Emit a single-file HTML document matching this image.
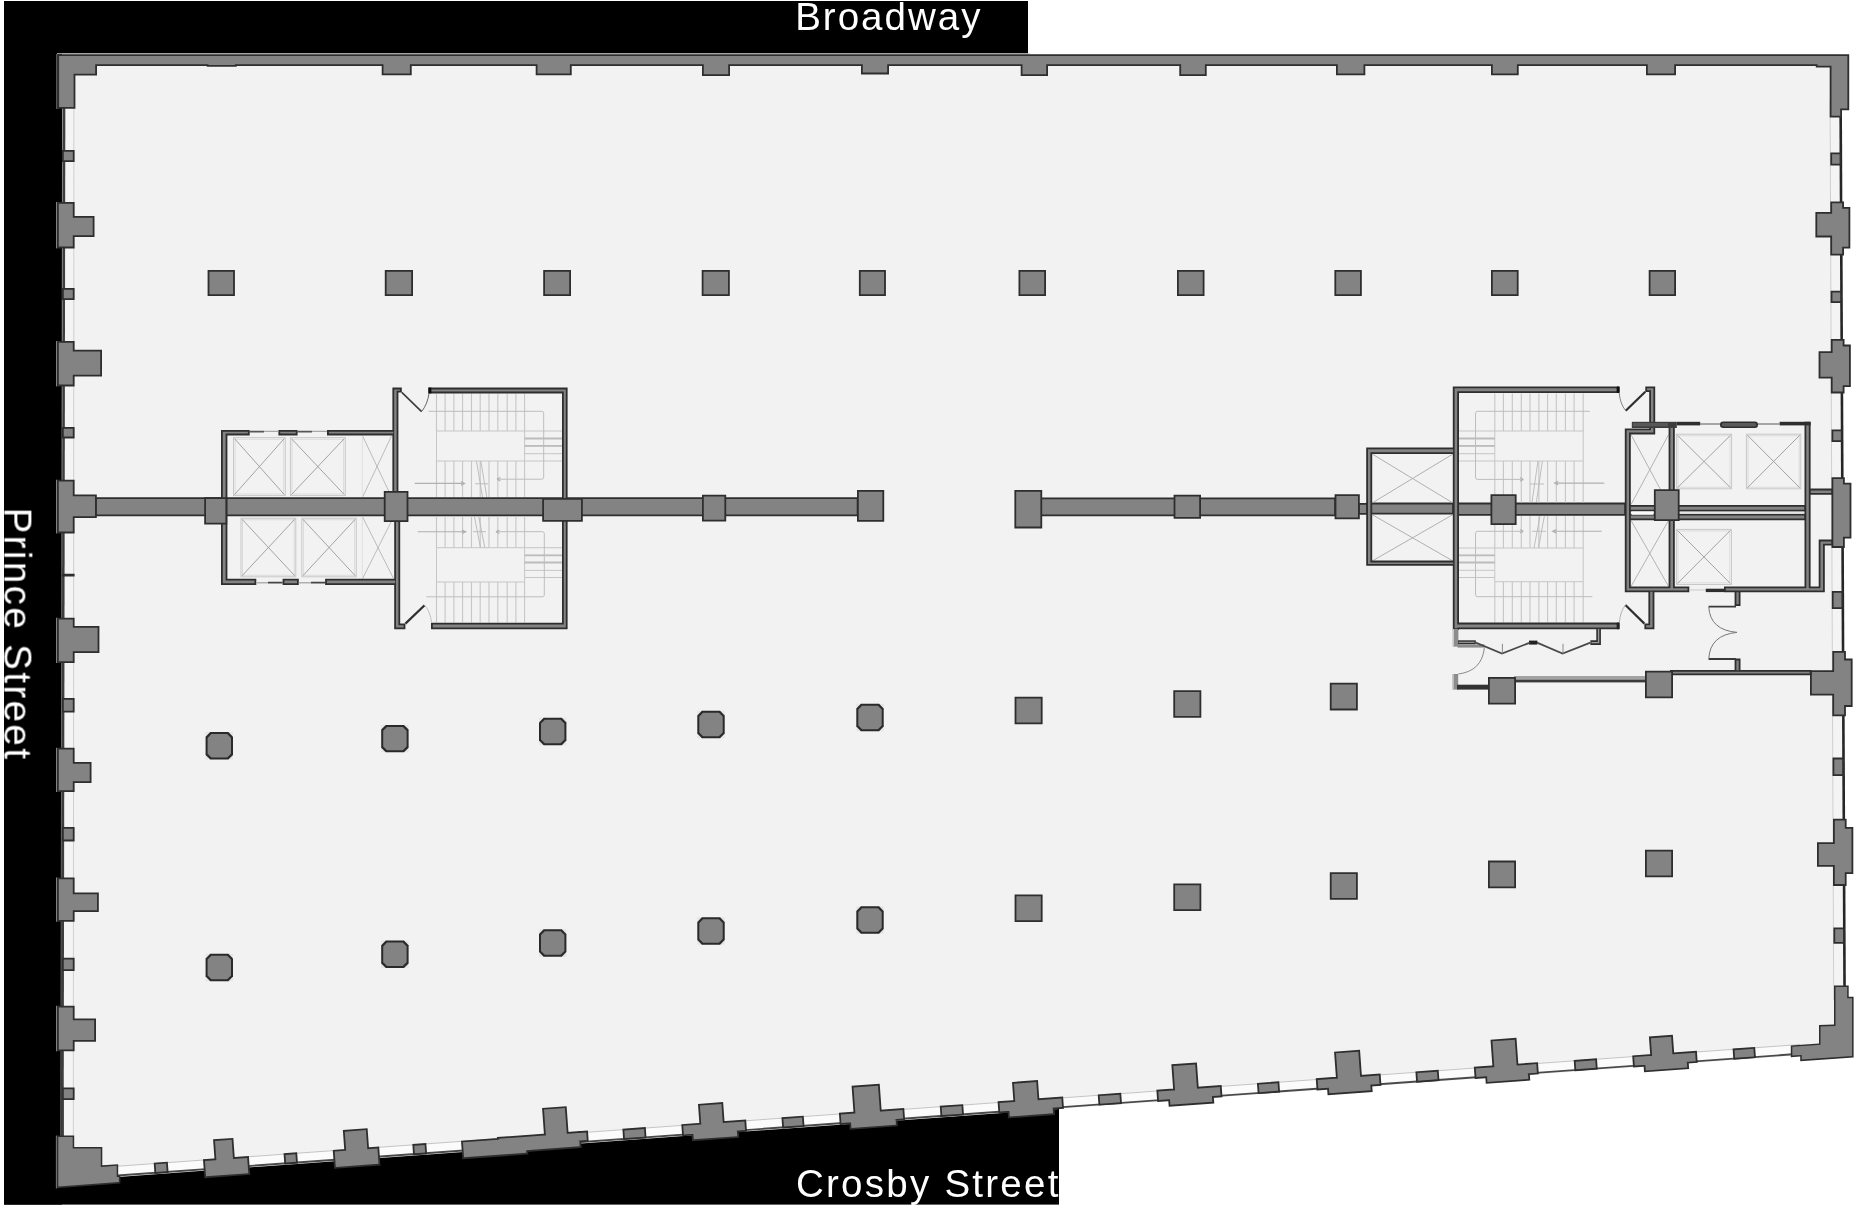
<!DOCTYPE html>
<html><head><meta charset="utf-8"><title>Floor plan</title>
<style>
html,body{margin:0;padding:0;background:#fff;}
body{width:1861px;height:1211px;overflow:hidden;font-family:"Liberation Sans",sans-serif;}
svg{display:block;}
text{font-family:"Liberation Sans",sans-serif;}
</style></head><body>
<svg width="1861" height="1211" viewBox="0 0 1861 1211">
<rect x="0" y="0" width="1861" height="1211" fill="#fff"/>
<rect x="4" y="1" width="1024" height="52.8" fill="#000"/>
<rect x="4" y="1" width="58" height="1203.6" fill="#000"/>
<rect x="4" y="1090" width="1055" height="114.6" fill="#000"/>
<defs><filter id="b" filterUnits="userSpaceOnUse" x="0" y="0" width="1861" height="1211"><feGaussianBlur stdDeviation="0.6"/></filter></defs>
<g filter="url(#b)">
<polygon points="63.5,54 1840.3,54 1844.8,1052.1 63.5,1180.9" fill="#f2f2f2" />
<polygon points="64,100 74,100 74,1150 64,1150" fill="#f4f4f4" />
<polygon points="1830.1,100 1840,100 1844,1000 1833.7,1000" fill="#f4f4f4" />
<polygon points="100,1167.2 1800,1044.2 1800,1054.2 100,1177.2" fill="#fbfbfb" />
<line x1="73.9" y1="100" x2="73.3" y2="1150" stroke="#cfcfcf" stroke-width="1" />
<line x1="1830.1" y1="100" x2="1833.7" y2="1000" stroke="#cfcfcf" stroke-width="1" />
<line x1="100" y1="1167.5" x2="1800" y2="1044.5" stroke="#c4c4c4" stroke-width="1.0" />
<line x1="62.6" y1="100" x2="60.9" y2="1150" stroke="#8a8a8a" stroke-width="0.9" />
<line x1="64.1" y1="100" x2="62.4" y2="1150" stroke="#3c3c3c" stroke-width="2.5" />
<line x1="1840.6" y1="100" x2="1844.6" y2="1000" stroke="#262626" stroke-width="2.6" />
<line x1="100" y1="1176.8" x2="1800" y2="1053.8" stroke="#4a4a4a" stroke-width="1.9" />
<line x1="57" y1="53.7" x2="1030" y2="53.7" stroke="#c8c8c8" stroke-width="1.1" />
<path fill="#2e2e2e" d="M95 497.2H858.5V516.2H95ZM1040 497.5H1336V516.2H1040ZM1358 503H1368V514.8H1358ZM1366 502.6H1454V514.6H1366ZM1453 502.6H1626V515.8H1453Z"/>
<path fill="#838383" d="M96.8 499H856.7V514.4H96.8ZM1041.8 499.3H1334.2V514.4H1041.8ZM1359.8 504.8H1366.2V513H1359.8ZM1367.8 504.4H1452.2V512.8H1367.8ZM1454.8 504.4H1624.2V514H1454.8Z"/>
<line x1="56.9" y1="54" x2="56.9" y2="109" stroke="#a0a0a0" stroke-width="0.9" />
<line x1="56.4" y1="1135.6" x2="56.4" y2="1188.4" stroke="#a0a0a0" stroke-width="0.9" />
<line x1="56.6" y1="202" x2="56.6" y2="248.4" stroke="#a0a0a0" stroke-width="0.9" />
<line x1="56.6" y1="341" x2="56.6" y2="386.4" stroke="#a0a0a0" stroke-width="0.9" />
<line x1="56.6" y1="479.7" x2="56.6" y2="533.4" stroke="#a0a0a0" stroke-width="0.9" />
<line x1="56.6" y1="617.8" x2="56.6" y2="663" stroke="#a0a0a0" stroke-width="0.9" />
<line x1="56.6" y1="747.8" x2="56.6" y2="792" stroke="#a0a0a0" stroke-width="0.9" />
<line x1="56.6" y1="877.4" x2="56.6" y2="921.7" stroke="#a0a0a0" stroke-width="0.9" />
<line x1="56.6" y1="1005.8" x2="56.6" y2="1051.3" stroke="#a0a0a0" stroke-width="0.9" />
<path fill="#2e2e2e" d="M57.3 54.3H1849.2V66H57.3ZM57.3 54.3H97V75.6H57.3ZM57.3 54.3H75.4V108.8H57.3ZM206.7 60H236.7V66.8H206.7ZM381.7 60H411.7V75.3H381.7ZM535.7 60H571.7V75.3H535.7ZM702 60H730V76H702ZM861 60H889V74.4H861ZM1020.7 60H1048V76H1020.7ZM1179.3 60H1206.7V76H1179.3ZM1336 60H1365.3V75.3H1336ZM1491 60H1518.7V75.3H1491ZM1646 60H1676V75.3H1646ZM1815.8 54.6H1849.2V67.6H1815.8ZM1829.7 54.6H1849.2V110.2H1829.7ZM1829.7 54.6H1842V117.6H1829.7ZM57 202H74.6V248.4H57ZM57 216H94.5V237H57ZM57 341H74.6V386.4H57ZM57 349.7H102V376.5H57ZM57 479.7H74.6V533.4H57ZM57 494.5H96.8V518H57ZM57 617.8H74.6V663H57ZM57 626H99.4V653H57ZM57 747.8H74.6V792H57ZM57 762H91.5V783H57ZM57 877.4H74.6V921.7H57ZM57 892.5H98.8V912H57ZM57 1005.8H74.6V1051.3H57ZM57 1018.5H96V1041.7H57ZM62 150H74.6V162H62ZM62 288H74.6V300H62ZM62 427H74.6V438.4H62ZM62 698H74.6V712.6H62ZM62 827H74.6V841.4H62ZM62 957.7H74.6V971H62ZM62 1087.5H74.6V1100H62ZM62 573.8H74.6V576.6H62ZM1830.3 201.5H1844V255.5H1830.3ZM1830.3 207H1850.3V248.6H1830.3ZM1815.4 212H1844V237.4H1815.4ZM1830.8 339H1844.5V393.4H1830.8ZM1830.8 344.6H1850.8V387H1830.8ZM1818.6 351.3H1844.5V378.6H1818.6ZM1831.5 477.3H1844.8V547.9H1831.5ZM1831.5 482.8H1851.4V538.5H1831.5ZM1832.3 651H1845.9V716.3H1832.3ZM1832.3 658.6H1852.6V706.9H1832.3ZM1810 670.2H1845.9V695.5H1810ZM1833 818.8H1846.6V885.9H1833ZM1833 827H1853.3V874H1833ZM1817 842.3H1846.6V866.8H1817ZM1830.3 152.5H1841.4V165.6H1830.3ZM1830.6 290.7H1842V303H1830.6ZM1831.5 429.5H1842.6V442H1831.5ZM1831.8 591H1843.2V609H1831.8ZM1832.5 757.6H1844V776H1832.5ZM1833.4 927.4H1844.8V943.7H1833.4Z"/>
<path fill="#838383" d="M59.1 56.1H1847.4V64.2H59.1ZM59.1 56.1H95.2V73.8H59.1ZM59.1 56.1H73.6V107H59.1ZM208.5 61.8H234.9V65H208.5ZM383.5 61.8H409.9V73.5H383.5ZM537.5 61.8H569.9V73.5H537.5ZM703.8 61.8H728.2V74.2H703.8ZM862.8 61.8H887.2V72.6H862.8ZM1022.5 61.8H1046.2V74.2H1022.5ZM1181.1 61.8H1204.9V74.2H1181.1ZM1337.8 61.8H1363.5V73.5H1337.8ZM1492.8 61.8H1516.9V73.5H1492.8ZM1647.8 61.8H1674.2V73.5H1647.8ZM1817.6 56.4H1847.4V65.8H1817.6ZM1831.5 56.4H1847.4V108.4H1831.5ZM1831.5 56.4H1840.2V115.8H1831.5ZM58.8 203.8H72.8V246.6H58.8ZM58.8 217.8H92.7V235.2H58.8ZM58.8 342.8H72.8V384.6H58.8ZM58.8 351.5H100.2V374.7H58.8ZM58.8 481.5H72.8V531.6H58.8ZM58.8 496.3H95V516.2H58.8ZM58.8 619.6H72.8V661.2H58.8ZM58.8 627.8H97.6V651.2H58.8ZM58.8 749.6H72.8V790.2H58.8ZM58.8 763.8H89.7V781.2H58.8ZM58.8 879.2H72.8V919.9H58.8ZM58.8 894.3H97V910.2H58.8ZM58.8 1007.6H72.8V1049.5H58.8ZM58.8 1020.3H94.2V1039.9H58.8ZM63.8 151.8H72.8V160.2H63.8ZM63.8 289.8H72.8V298.2H63.8ZM63.8 428.8H72.8V436.6H63.8ZM63.8 699.8H72.8V710.8H63.8ZM63.8 828.8H72.8V839.6H63.8ZM63.8 959.5H72.8V969.2H63.8ZM63.8 1089.3H72.8V1098.2H63.8ZM1832.1 203.3H1842.2V253.7H1832.1ZM1832.1 208.8H1848.5V246.8H1832.1ZM1817.2 213.8H1842.2V235.6H1817.2ZM1832.6 340.8H1842.7V391.6H1832.6ZM1832.6 346.4H1849V385.2H1832.6ZM1820.4 353.1H1842.7V376.8H1820.4ZM1833.3 479.1H1843V546.1H1833.3ZM1833.3 484.6H1849.6V536.7H1833.3ZM1834.1 652.8H1844.1V714.5H1834.1ZM1834.1 660.4H1850.8V705.1H1834.1ZM1811.8 672H1844.1V693.7H1811.8ZM1834.8 820.6H1844.8V884.1H1834.8ZM1834.8 828.8H1851.5V872.2H1834.8ZM1818.8 844.1H1844.8V865H1818.8ZM1832.1 154.3H1839.6V163.8H1832.1ZM1832.4 292.5H1840.2V301.2H1832.4ZM1833.3 431.3H1840.8V440.2H1833.3ZM1833.6 592.8H1841.4V607.2H1833.6ZM1834.3 759.4H1842.2V774.2H1834.3ZM1835.2 929.2H1843V941.9H1835.2Z"/>
<polygon points="56.8,1135.6 74.2,1135.6 74.2,1147 102.3,1147 102.3,1165.3 118.2,1164.2 118.2,1175.5 120.4,1175.3 120.4,1183.4 56.8,1188.2" fill="#2e2e2e" />
<polygon points="58.3,1137.1 72.7,1137.1 72.7,1148.5 100.8,1148.5 100.8,1166.9 116.7,1165.8 116.7,1177 118.9,1176.9 118.9,1182 58.3,1186.6" fill="#838383" />
<polygon points="1834,985.5 1848.7,985.5 1848.7,996.8 1853.6,996.8 1853.6,1057.4 1800.2,1061.2 1800.2,1056.6 1790.8,1057.2 1790.8,1045.4 1819,1043.4 1819,1025 1834,1024.4" fill="#2e2e2e" />
<polygon points="1835.5,987 1847.2,987 1847.2,998.3 1852.1,998.3 1852.1,1056 1801.7,1059.6 1801.7,1055 1792.3,1055.6 1792.3,1046.8 1820.5,1044.8 1820.5,1026.5 1835.5,1025.9" fill="#838383" />
<g transform="translate(57,1170.3) rotate(-4.1364)">
<path fill="#2e2e2e" d="M97 -0.6H111.1V10.6H97ZM227.2 -0.6H240.8V10.6H227.2ZM356.3 -0.6H370.3V10.6H356.3ZM566.9 -0.6H590.3V10.6H566.9ZM726.4 -0.6H748.7V10.6H726.4ZM885.1 -0.6H908.6V10.6H885.1ZM1043.5 -0.6H1067V10.6H1043.5ZM1203.1 -0.6H1225.5V10.6H1203.1ZM1362 -0.6H1385.3V10.6H1362ZM1520.7 -0.6H1544V10.6H1520.7ZM1680 -0.6H1702.6V10.6H1680ZM157.9 -19.6H178.2V5H157.9ZM146.4 -0.4H192.4V18.5H146.4ZM288 -19.6H312.8V5H288ZM276.5 -0.4H323V18.5H276.5ZM405.1 -0.4H471.2V18.2H405.1ZM441.1 -1.4H524.9V15.6H441.1ZM504.3 -1.4H532.4V9.8H504.3ZM488.3 -27.2H512.9V5H488.3ZM644.1 -20H669.3V5H644.1ZM626 -1H691V11.2H626ZM635.5 4H682.8V16.8H635.5ZM798.6 -27H826.8V5H798.6ZM784 -1H849.5V11.2H784ZM793.6 4H841.9V16.8H793.6ZM958.9 -19.2H984.9V5H958.9ZM943.1 -1H1008.8V11.2H943.1ZM952.4 4H999.4V16.8H952.4ZM1119.1 -25.3H1144.7V5H1119.1ZM1102.3 -1H1167.7V11.2H1102.3ZM1113.4 4H1159.1V16.8H1113.4ZM1282.3 -26.2H1308.3V5H1282.3ZM1262.1 -1H1327.1V11.2H1262.1ZM1272.7 4H1317.9V16.8H1272.7ZM1439.2 -26.9H1465.2V5H1439.2ZM1420.6 -1H1484.9V11.2H1420.6ZM1431.3 4H1475.9V16.8H1431.3ZM1597.4 -18.6H1621.4V5H1597.4ZM1579.4 -1H1644.2V11.2H1579.4ZM1590 4H1635.2V16.8H1590Z"/>
<path fill="#838383" d="M98.8 1.2H109.3V8.8H98.8ZM229 1.2H239V8.8H229ZM358.1 1.2H368.5V8.8H358.1ZM568.7 1.2H588.5V8.8H568.7ZM728.2 1.2H746.9V8.8H728.2ZM886.9 1.2H906.8V8.8H886.9ZM1045.3 1.2H1065.2V8.8H1045.3ZM1204.9 1.2H1223.7V8.8H1204.9ZM1363.8 1.2H1383.5V8.8H1363.8ZM1522.5 1.2H1542.2V8.8H1522.5ZM1681.8 1.2H1700.8V8.8H1681.8ZM159.7 -17.8H176.4V3.2H159.7ZM148.2 1.4H190.6V16.7H148.2ZM289.8 -17.8H311V3.2H289.8ZM278.3 1.4H321.2V16.7H278.3ZM406.9 1.4H469.4V16.4H406.9ZM442.9 0.4H523.1V13.8H442.9ZM506.1 0.4H530.6V8H506.1ZM490.1 -25.4H511.1V3.2H490.1ZM645.9 -18.2H667.5V3.2H645.9ZM627.8 0.8H689.2V9.4H627.8ZM637.3 5.8H681V15H637.3ZM800.4 -25.2H825V3.2H800.4ZM785.8 0.8H847.7V9.4H785.8ZM795.4 5.8H840.1V15H795.4ZM960.7 -17.4H983.1V3.2H960.7ZM944.9 0.8H1007V9.4H944.9ZM954.2 5.8H997.6V15H954.2ZM1120.9 -23.5H1142.9V3.2H1120.9ZM1104.1 0.8H1165.9V9.4H1104.1ZM1115.2 5.8H1157.3V15H1115.2ZM1284.1 -24.4H1306.5V3.2H1284.1ZM1263.9 0.8H1325.3V9.4H1263.9ZM1274.5 5.8H1316.1V15H1274.5ZM1441 -25.1H1463.4V3.2H1441ZM1422.4 0.8H1483.1V9.4H1422.4ZM1433.1 5.8H1474.1V15H1433.1ZM1599.2 -16.8H1619.6V3.2H1599.2ZM1581.2 0.8H1642.4V9.4H1581.2ZM1591.8 5.8H1633.4V15H1591.8Z"/>
</g>
<rect x="233.5" y="437.6" width="51.8" height="58" fill="none" stroke="#c8c8c8" stroke-width="1"/>
<rect x="235.1" y="439.2" width="48.6" height="54.8" fill="none" stroke="#d6d6d6" stroke-width="0.8"/>
<path d="M234.5 438.6L284.3 494.6M284.3 438.6L234.5 494.6" fill="none" stroke="#9a9a9a" stroke-width="0.9" />
<rect x="290.4" y="437.6" width="54.9" height="58" fill="none" stroke="#c8c8c8" stroke-width="1"/>
<rect x="292" y="439.2" width="51.7" height="54.8" fill="none" stroke="#d6d6d6" stroke-width="0.8"/>
<path d="M291.4 438.6L344.3 494.6M344.3 438.6L291.4 494.6" fill="none" stroke="#9a9a9a" stroke-width="0.9" />
<path d="M362.6 436L391.5 497M391.5 436L362.6 497" fill="none" stroke="#b4b4b4" stroke-width="0.9" />
<path d="M362.3 436V497" fill="none" stroke="#dcdcdc" stroke-width="0.8" />
<rect x="241" y="518.2" width="54.8" height="58.6" fill="none" stroke="#c8c8c8" stroke-width="1"/>
<rect x="242.6" y="519.8" width="51.6" height="55.4" fill="none" stroke="#d6d6d6" stroke-width="0.8"/>
<path d="M242 519.2L294.8 575.8M294.8 519.2L242 575.8" fill="none" stroke="#9a9a9a" stroke-width="0.9" />
<rect x="301.8" y="518.2" width="54.5" height="58.6" fill="none" stroke="#c8c8c8" stroke-width="1"/>
<rect x="303.4" y="519.8" width="51.3" height="55.4" fill="none" stroke="#d6d6d6" stroke-width="0.8"/>
<path d="M302.8 519.2L355.3 575.8M355.3 519.2L302.8 575.8" fill="none" stroke="#9a9a9a" stroke-width="0.9" />
<path d="M362.6 517L393.5 578.5M393.5 517L362.6 578.5" fill="none" stroke="#b4b4b4" stroke-width="0.9" />
<path d="M362.3 517V578" fill="none" stroke="#dcdcdc" stroke-width="0.8" />
<path d="M436.5 393.5V431M436.5 461V497M445.1 393.5V431M445.1 461V497M453.9 393.5V431M453.9 461V497M462.6 393.5V431M462.6 461V497M471.5 393.5V431M471.5 461V497M480.2 393.5V431M480.2 461V497M489 393.5V431M489 461V497M497.8 393.5V431M497.8 461V497M507.2 393.5V431M507.2 461V497M515.9 393.5V431M515.9 461V497M524.6 393.5V431M524.6 461V497" fill="none" stroke="#c6c6c6" stroke-width="1.1" />
<path d="M436.5 431H524.6M436.5 461H524.6M436.5 431V461M524.6 431V461" fill="none" stroke="#c6c6c6" stroke-width="1" />
<path d="M524.6 431H562M524.6 438.5H562M524.6 445.9H562M524.6 453.7H562M524.6 461H562" fill="none" stroke="#c6c6c6" stroke-width="1" />
<path d="M524.6 438.5H562M524.6 445.9H562" fill="none" stroke="#bcbcbc" stroke-width="1.8" />
<path d="M428.4 411.3H541.7Q543.7 411.3 543.7 413.3V477.2Q543.7 479.2 541.7 479.2H497" fill="none" stroke="#bdbdbd" stroke-width="1" />
<path d="M436.5 516.5V547.7M436.5 582V622.6M445.1 516.5V547.7M445.1 582V622.6M453.9 516.5V547.7M453.9 582V622.6M462.6 516.5V547.7M462.6 582V622.6M471.5 516.5V547.7M471.5 582V622.6M480.2 516.5V547.7M480.2 582V622.6M489 516.5V547.7M489 582V622.6M497.8 516.5V547.7M497.8 582V622.6M507.2 516.5V547.7M507.2 582V622.6M515.9 516.5V547.7M515.9 582V622.6M524.6 516.5V547.7M524.6 582V622.6" fill="none" stroke="#c6c6c6" stroke-width="1.1" />
<path d="M436.5 547.7H524.6M436.5 582H524.6M436.5 547.7V582M524.6 547.7V582" fill="none" stroke="#c6c6c6" stroke-width="1" />
<path d="M524.6 547.7H562M524.6 555.3H562M524.6 562.5H562M524.6 570.4H562M524.6 577.5H562" fill="none" stroke="#c6c6c6" stroke-width="1" />
<path d="M524.6 555.3H562M524.6 562.5H562" fill="none" stroke="#bcbcbc" stroke-width="1.8" />
<path d="M426.3 596.8H542.3Q544.3 596.8 544.3 594.8V533.7Q544.3 531.7 542.3 531.7H496" fill="none" stroke="#bdbdbd" stroke-width="1" />
<path d="M414.7 483.4H464M461 481.6L464.6 483.4L461 485.2" fill="none" stroke="#b0b0b0" stroke-width="1.1" />
<path d="M497 479.2l3.4 -1.8M497 479.2l3.4 1.8" fill="none" stroke="#b0b0b0" stroke-width="1.1" />
<path d="M417.6 531.7H465M462 529.9L465.8 531.7L462 533.5" fill="none" stroke="#b0b0b0" stroke-width="1.1" />
<path d="M496 531.7l3.4 -1.8M496 531.7l3.4 1.8" fill="none" stroke="#b0b0b0" stroke-width="1.1" />
<path d="M476.5 461L482.5 497M480.8 461L486.8 497M475 483.8H488" fill="none" stroke="#b8b8b8" stroke-width="0.9" />
<path d="M474.5 517L480.5 547.7M478.8 517L484.8 547.7M473 531.7H486" fill="none" stroke="#b8b8b8" stroke-width="0.9" />
<path fill="#2e2e2e" d="M221 430H227.4V585H221ZM221 430H249.7V435.4H221ZM278.4 430H297.6V435.4H278.4ZM327 430H395V435.4H327ZM221 578.8H256.3V585H221ZM282.6 578.8H298.8V585H282.6ZM325.1 578.8H397V585H325.1ZM392.4 387.6H398.4V498H392.4ZM392.4 387.6H401.8V392.6H392.4ZM394.2 515H400.2V629.3H394.2ZM394.2 623.4H405.4V629.3H394.2ZM428.4 387.6H567.6V393.4H428.4ZM562 387.6H567.6V629.3H562ZM431 622.8H567.6V629.3H431Z"/>
<path fill="#838383" d="M222.8 431.8H225.6V583.2H222.8ZM222.8 431.8H247.9V433.6H222.8ZM280.2 431.8H295.8V433.6H280.2ZM328.8 431.8H393.2V433.6H328.8ZM222.8 580.6H254.5V583.2H222.8ZM284.4 580.6H297V583.2H284.4ZM326.9 580.6H395.2V583.2H326.9ZM394.2 389.4H396.6V496.2H394.2ZM394.2 389.4H400V390.8H394.2ZM396 516.8H398.4V627.5H396ZM396 625.2H403.6V627.5H396ZM430.2 389.4H565.8V391.6H430.2ZM563.8 389.4H565.8V627.5H563.8ZM432.8 624.6H565.8V627.5H432.8Z"/>
<path d="M249.7 431.6H264M297.6 431.6H312" fill="none" stroke="#555" stroke-width="1.6" />
<path d="M264 431.4H278.4M312 431.4H327" fill="none" stroke="#a8a8a8" stroke-width="1.2" />
<path d="M268 582.6H282.6M311 582.6H325.1" fill="none" stroke="#444" stroke-width="1.8" />
<path d="M256.3 582.8H268M298.8 582.8H311" fill="none" stroke="#b0b0b0" stroke-width="1.4" />
<path d="M401.8 392.4L421.6 411.6" fill="none" stroke="#3a3a3a" stroke-width="1.6" />
<path d="M421.6 411.6Q427.6 404 429 393.4" fill="none" stroke="#555" stroke-width="0.9" />
<path d="M405.4 623.6L424.6 605.2" fill="none" stroke="#2e2e2e" stroke-width="2.2" />
<path d="M424.6 605.2Q430.6 612 431.6 622.8" fill="none" stroke="#bbb" stroke-width="0.9" />
<rect x="428.4" y="387.6" width="3" height="5.8" fill="#111"/>
<path d="M1372.5 454.2L1452.6 502.8M1452.6 454.2L1372.5 502.8" fill="none" stroke="#a8a8a8" stroke-width="0.9" />
<path d="M1372.5 514.8L1452.6 560.8M1452.6 514.8L1372.5 560.8" fill="none" stroke="#a8a8a8" stroke-width="0.9" />
<path d="M1631 434.6L1668.6 504.6M1668.6 434.6L1631 504.6" fill="none" stroke="#acacac" stroke-width="0.9" />
<path d="M1631 520.4L1668.6 586.4M1668.6 520.4L1631 586.4" fill="none" stroke="#acacac" stroke-width="0.9" />
<rect x="1676.4" y="434.2" width="55.2" height="54.6" fill="none" stroke="#c8c8c8" stroke-width="1"/>
<rect x="1678" y="435.8" width="52" height="51.4" fill="none" stroke="#d6d6d6" stroke-width="0.8"/>
<path d="M1677.4 435.2L1730.6 487.8M1730.6 435.2L1677.4 487.8" fill="none" stroke="#9a9a9a" stroke-width="0.9" />
<rect x="1746.4" y="434.2" width="54.4" height="54.6" fill="none" stroke="#c8c8c8" stroke-width="1"/>
<rect x="1748" y="435.8" width="51.2" height="51.4" fill="none" stroke="#d6d6d6" stroke-width="0.8"/>
<path d="M1747.4 435.2L1799.8 487.8M1799.8 435.2L1747.4 487.8" fill="none" stroke="#9a9a9a" stroke-width="0.9" />
<rect x="1676.4" y="529.4" width="55" height="55.1" fill="none" stroke="#c8c8c8" stroke-width="1"/>
<rect x="1678" y="531" width="51.8" height="51.9" fill="none" stroke="#d6d6d6" stroke-width="0.8"/>
<path d="M1677.4 530.4L1730.4 583.5M1730.4 530.4L1677.4 583.5" fill="none" stroke="#9a9a9a" stroke-width="0.9" />
<path d="M1494.8 393.5V431M1494.8 461V502.6M1503.4 393.5V431M1503.4 461V502.6M1512.3 393.5V431M1512.3 461V502.6M1521.3 393.5V431M1521.3 461V502.6M1530 393.5V431M1530 461V502.6M1538.9 393.5V431M1538.9 461V502.6M1547.6 393.5V431M1547.6 461V502.6M1556.3 393.5V431M1556.3 461V502.6M1565.4 393.5V431M1565.4 461V502.6M1574.1 393.5V431M1574.1 461V502.6M1583.2 393.5V431M1583.2 461V502.6" fill="none" stroke="#c6c6c6" stroke-width="1.1" />
<path d="M1494.8 431H1583.2M1494.8 461H1583.2M1494.8 431V461M1583.2 431V461" fill="none" stroke="#c6c6c6" stroke-width="1" />
<path d="M1459 431H1494.8M1459 438.5H1494.8M1459 445.9H1494.8M1459 453.7H1494.8M1459 461H1494.8" fill="none" stroke="#c6c6c6" stroke-width="1" />
<path d="M1459 438.5H1494.8M1459 445.9H1494.8" fill="none" stroke="#bcbcbc" stroke-width="1.8" />
<path d="M1589.8 411.3H1477.5Q1475.5 411.3 1475.5 413.3V477.4Q1475.5 479.4 1477.5 479.4H1523" fill="none" stroke="#bdbdbd" stroke-width="1" />
<path d="M1494.8 516V548M1494.8 581.7V622.6M1503.4 516V548M1503.4 581.7V622.6M1512.3 516V548M1512.3 581.7V622.6M1521.3 516V548M1521.3 581.7V622.6M1530 516V548M1530 581.7V622.6M1538.9 516V548M1538.9 581.7V622.6M1547.6 516V548M1547.6 581.7V622.6M1556.3 516V548M1556.3 581.7V622.6M1565.4 516V548M1565.4 581.7V622.6M1574.1 516V548M1574.1 581.7V622.6M1583.2 516V548M1583.2 581.7V622.6" fill="none" stroke="#c6c6c6" stroke-width="1.1" />
<path d="M1494.8 548H1583.2M1494.8 581.7H1583.2M1494.8 548V581.7M1583.2 548V581.7" fill="none" stroke="#c6c6c6" stroke-width="1" />
<path d="M1459 548H1494.8M1459 555.3H1494.8M1459 562.5H1494.8M1459 570.3H1494.8M1459 577.5H1494.8" fill="none" stroke="#c6c6c6" stroke-width="1" />
<path d="M1459 555.3H1494.8M1459 562.5H1494.8" fill="none" stroke="#bcbcbc" stroke-width="1.8" />
<path d="M1592.4 596.7H1477.5Q1475.5 596.7 1475.5 594.7V533.3Q1475.5 531.3 1477.5 531.3H1523" fill="none" stroke="#bdbdbd" stroke-width="1" />
<path d="M1523.4 479.4l-3.4 -1.8M1523.4 479.4l-3.4 1.8" fill="none" stroke="#b0b0b0" stroke-width="1.1" />
<path d="M1604.2 483.1H1555M1558.2 481.3L1554.5 483.1L1558.2 484.9" fill="none" stroke="#b0b0b0" stroke-width="1.1" />
<path d="M1523.4 531.3l-3.4 -1.8M1523.4 531.3l-3.4 1.8" fill="none" stroke="#b0b0b0" stroke-width="1.1" />
<path d="M1601.7 531.3H1553M1556.2 529.5L1552.5 531.3L1556.2 533.1" fill="none" stroke="#b0b0b0" stroke-width="1.1" />
<path d="M1538 461L1532 502M1542.4 461L1536.4 502M1530 484H1544" fill="none" stroke="#b8b8b8" stroke-width="0.9" />
<path d="M1540 516L1534 548M1544.4 516L1538.4 548M1532 531.3H1546" fill="none" stroke="#b8b8b8" stroke-width="0.9" />
<path fill="#2e2e2e" d="M1366.2 447.5H1372.2V565.8H1366.2ZM1366.2 447.5H1455V454H1366.2ZM1366.2 560.6H1455V565.8H1366.2ZM1452.8 386.4H1459V630H1452.8ZM1452.8 386.4H1619.4V393H1452.8ZM1452.8 622.6H1619.4V629.2H1452.8ZM1649.2 386.4H1655.2V434.4H1649.2ZM1645.3 386.4H1655.2V392H1645.3ZM1648.4 590H1654.4V629.2H1648.4ZM1644.4 623.4H1654.4V629.2H1644.4ZM1624.8 428.4H1630.8V592.3H1624.8ZM1624.8 428.4H1655.2V434.4H1624.8ZM1624.8 586.5H1689.3V592.3H1624.8ZM1724 586.5H1824.8V592.3H1724ZM1804.5 421.8H1810.6V592.3H1804.5ZM1668.6 426H1674.8V590H1668.6ZM1629 505H1806V511.6H1629ZM1629 513.8H1806V520.2H1629ZM1809 488.6H1833V494.8H1809ZM1818.7 539.6H1833V545.6H1818.7ZM1818.7 539.6H1824.8V592.3H1818.7ZM1734.6 590.5H1740.5V606H1734.6ZM1734.6 658.6H1740.5V672H1734.6ZM1670 670H1811.5V675.2H1670Z"/>
<path fill="#838383" d="M1368 449.3H1370.4V564H1368ZM1368 449.3H1453.2V452.2H1368ZM1368 562.4H1453.2V564H1368ZM1454.6 388.2H1457.2V628.2H1454.6ZM1454.6 388.2H1617.6V391.2H1454.6ZM1454.6 624.4H1617.6V627.4H1454.6ZM1651 388.2H1653.4V432.6H1651ZM1647.1 388.2H1653.4V390.2H1647.1ZM1650.2 591.8H1652.6V627.4H1650.2ZM1646.2 625.2H1652.6V627.4H1646.2ZM1626.6 430.2H1629V590.5H1626.6ZM1626.6 430.2H1653.4V432.6H1626.6ZM1626.6 588.3H1687.5V590.5H1626.6ZM1725.8 588.3H1823V590.5H1725.8ZM1806.3 423.6H1808.8V590.5H1806.3ZM1670.4 427.8H1673V588.2H1670.4ZM1630.8 506.8H1804.2V509.8H1630.8ZM1630.8 515.6H1804.2V518.4H1630.8ZM1810.8 490.4H1831.2V493H1810.8ZM1820.5 541.4H1831.2V543.8H1820.5ZM1820.5 541.4H1823V590.5H1820.5ZM1736.4 592.3H1738.7V604.2H1736.4ZM1736.4 660.4H1738.7V670.2H1736.4ZM1671.8 671.8H1809.7V673.4H1671.8Z"/>
<rect x="1631.5" y="511.4" width="22" height="3.4" fill="#fbfbfb"/>
<rect x="1680" y="511.8" width="124" height="1.9" fill="#e4e4e4"/>
<rect x="1631.8" y="421.8" width="45" height="6.2" fill="#3c3c3c"/>
<rect x="1633" y="423" width="35" height="3.4" fill="#585858"/>
<rect x="1676.8" y="421.8" width="23.4" height="3.6" fill="#2e2e2e"/>
<rect x="1779.6" y="421.8" width="31" height="3.6" fill="#2e2e2e"/>
<rect x="1720" y="421.4" width="38" height="6.6" rx="3.2" fill="#2e2e2e"/>
<rect x="1721.6" y="422.9" width="34.8" height="3.6" rx="1.8" fill="#5a5a5a"/>
<path d="M1700 424H1720M1758 424H1779.6" fill="none" stroke="#8a8a8a" stroke-width="1.3" />
<path d="M1689.3 590H1706" fill="none" stroke="#d0d0d0" stroke-width="1.2" />
<path d="M1705.8 590.4H1724" fill="none" stroke="#2e2e2e" stroke-width="3.4" />
<path d="M1645.3 391.8L1625.7 410.7" fill="none" stroke="#2e2e2e" stroke-width="2.2" />
<path d="M1625.7 410.7Q1620.2 404 1619.2 393" fill="none" stroke="#777" stroke-width="0.9" />
<path d="M1644.4 623.6L1625.4 605" fill="none" stroke="#2e2e2e" stroke-width="2.2" />
<path d="M1625.4 605Q1620 612 1619.4 622.6" fill="none" stroke="#aaa" stroke-width="0.9" />
<rect x="1616.6" y="386.4" width="3" height="6.6" rx="1" fill="#111"/>
<rect x="1616.6" y="622.6" width="3" height="6.6" rx="1" fill="#222"/>
<path d="M1708.6 606.6H1736M1708.6 659H1736" fill="none" stroke="#3a3a3a" stroke-width="1.8" />
<path d="M1708.8 607Q1710 630 1737 632.4M1708.8 658.6Q1710 635 1737 632.4" fill="none" stroke="#777" stroke-width="1" />
<rect x="1452.8" y="629" width="5.6" height="17.6" fill="#8c8c8c"/>
<rect x="1452.8" y="629" width="1.2" height="17.6" fill="#c8c8c8"/>
<path d="M1598.6 629V642.6H1590.4" fill="none" stroke="#2e2e2e" stroke-width="4.6" />
<path d="M1598.6 629V642.6H1591.5" fill="none" stroke="#9a9a9a" stroke-width="1.4" />
<path d="M1458 642.3H1475.8" fill="none" stroke="#2e2e2e" stroke-width="4" />
<path d="M1458.5 642.3H1474.5" fill="none" stroke="#9a9a9a" stroke-width="1.2" />
<path d="M1457.6 646H1484.4" fill="none" stroke="#8a8a8a" stroke-width="3.2" />
<rect x="1529" y="640.6" width="8.4" height="4" fill="#222"/>
<path d="M1475.8 642.6L1502 653.5L1530 642.6M1537 642.6L1562.6 653.5L1590.4 642.6" fill="none" stroke="#4a4a4a" stroke-width="1.7" />
<path d="M1502.4 643.8V653.5M1563 643.8V653.5" fill="none" stroke="#8a8a8a" stroke-width="1" />
<path d="M1484.4 647.6Q1482 671 1458.4 674" fill="none" stroke="#8a8a8a" stroke-width="1" />
<rect x="1452.6" y="674" width="5.6" height="15.6" fill="#8c8c8c"/>
<rect x="1452.6" y="674" width="1.2" height="15.6" fill="#c8c8c8"/>
<rect x="1457" y="684.7" width="33" height="4.9" fill="#333"/>
<rect x="1514" y="676" width="132.5" height="3.6" fill="#a2a2a2"/>
<rect x="1514" y="679.6" width="132.5" height="2.8" fill="#3a3a3a"/>
<path fill="#2e2e2e" d="M1653.9 489.2H1679.6V521H1653.9ZM1489 677.4H1514.6V703.6H1489ZM1646 671H1671.8V697.6H1646Z"/>
<path fill="#838383" d="M1655.7 491H1677.8V519.2H1655.7ZM1490.8 679.2H1512.8V701.8H1490.8ZM1647.8 672.8H1670V695.8H1647.8Z"/>
<path fill="#2e2e2e" d="M207.6 270H234.9V296H207.6ZM384.8 270H413V296H384.8ZM543.2 270H571V296H543.2ZM701.7 270H729.8V296H701.7ZM858.9 270H885.9V296H858.9ZM1018.5 270H1046V296H1018.5ZM1177 270H1204.5V296H1177ZM1334.4 270H1361.8V296H1334.4ZM1491 270H1518.6V296H1491ZM1648.7 270H1676V296H1648.7ZM1014.6 696.7H1042.6V724.3H1014.6ZM1014.6 894.4H1042.6V922H1014.6ZM1173.3 690.2H1201.3V717.8H1173.3ZM1173.3 883.4H1201.3V911H1173.3ZM1329.8 682.8H1357.8V710.4H1329.8ZM1329.8 872.2H1357.8V899.8H1329.8ZM1488 676.9H1516V704.5H1488ZM1488 860.6H1516V888.2H1488ZM1645 670.7H1673V698.3H1645ZM1645 849.7H1673V877.3H1645ZM204.2 497.3H227.2V524.6H204.2ZM383.8 491H408.4V522H383.8ZM542.2 498H582.8V521.7H542.2ZM702 494.7H726.2V521.6H702ZM857 490H884.2V521.8H857ZM1014.4 490H1042.2V528.4H1014.4ZM1173.6 494.7H1201V518.8H1173.6ZM1334.6 494.2H1359.8V519.3H1334.6ZM1490.5 494.2H1516.6V525H1490.5Z"/>
<path fill="#838383" d="M209.4 271.8H233.1V294.2H209.4ZM386.6 271.8H411.2V294.2H386.6ZM545 271.8H569.2V294.2H545ZM703.5 271.8H728V294.2H703.5ZM860.7 271.8H884.1V294.2H860.7ZM1020.3 271.8H1044.2V294.2H1020.3ZM1178.8 271.8H1202.7V294.2H1178.8ZM1336.2 271.8H1360V294.2H1336.2ZM1492.8 271.8H1516.8V294.2H1492.8ZM1650.5 271.8H1674.2V294.2H1650.5ZM1016.4 698.5H1040.8V722.5H1016.4ZM1016.4 896.2H1040.8V920.2H1016.4ZM1175.1 692H1199.5V716H1175.1ZM1175.1 885.2H1199.5V909.2H1175.1ZM1331.6 684.6H1356V708.6H1331.6ZM1331.6 874H1356V898H1331.6ZM1489.8 678.7H1514.2V702.7H1489.8ZM1489.8 862.4H1514.2V886.4H1489.8ZM1646.8 672.5H1671.2V696.5H1646.8ZM1646.8 851.5H1671.2V875.5H1646.8ZM206 499.1H225.4V522.8H206ZM385.6 492.8H406.6V520.2H385.6ZM544 499.8H581V519.9H544ZM703.8 496.5H724.4V519.8H703.8ZM858.8 491.8H882.4V520H858.8ZM1016.2 491.8H1040.4V526.6H1016.2ZM1175.4 496.5H1199.2V517H1175.4ZM1336.4 496H1358V517.5H1336.4ZM1492.3 496H1514.8V523.2H1492.3Z"/>
<rect x="205.6" y="732.1" width="27.4" height="27.4" fill="#e6e6e6"/>
<polygon points="210.2,732.1 228.4,732.1 233,736.7 233,754.9 228.4,759.5 210.2,759.5 205.6,754.9 205.6,736.7" fill="#2a2a2a"/>
<polygon points="211.4,734.1 227.2,734.1 231,737.9 231,753.7 227.2,757.5 211.4,757.5 207.6,753.7 207.6,737.9" fill="#838383"/>
<rect x="205.6" y="953.8" width="27.4" height="27.4" fill="#e6e6e6"/>
<polygon points="210.2,953.8 228.4,953.8 233,958.4 233,976.6 228.4,981.2 210.2,981.2 205.6,976.6 205.6,958.4" fill="#2a2a2a"/>
<polygon points="211.4,955.8 227.2,955.8 231,959.6 231,975.4 227.2,979.2 211.4,979.2 207.6,975.4 207.6,959.6" fill="#838383"/>
<rect x="381.2" y="724.9" width="27.4" height="27.4" fill="#e6e6e6"/>
<polygon points="385.8,724.9 404,724.9 408.6,729.5 408.6,747.7 404,752.3 385.8,752.3 381.2,747.7 381.2,729.5" fill="#2a2a2a"/>
<polygon points="387,726.9 402.8,726.9 406.6,730.7 406.6,746.5 402.8,750.3 387,750.3 383.2,746.5 383.2,730.7" fill="#838383"/>
<rect x="381.2" y="940.6" width="27.4" height="27.4" fill="#e6e6e6"/>
<polygon points="385.8,940.6 404,940.6 408.6,945.2 408.6,963.4 404,968 385.8,968 381.2,963.4 381.2,945.2" fill="#2a2a2a"/>
<polygon points="387,942.6 402.8,942.6 406.6,946.4 406.6,962.2 402.8,966 387,966 383.2,962.2 383.2,946.4" fill="#838383"/>
<rect x="539" y="717.8" width="27.4" height="27.4" fill="#e6e6e6"/>
<polygon points="543.6,717.8 561.8,717.8 566.4,722.4 566.4,740.6 561.8,745.2 543.6,745.2 539,740.6 539,722.4" fill="#2a2a2a"/>
<polygon points="544.8,719.8 560.6,719.8 564.4,723.6 564.4,739.4 560.6,743.2 544.8,743.2 541,739.4 541,723.6" fill="#838383"/>
<rect x="539" y="929.3" width="27.4" height="27.4" fill="#e6e6e6"/>
<polygon points="543.6,929.3 561.8,929.3 566.4,933.9 566.4,952.1 561.8,956.7 543.6,956.7 539,952.1 539,933.9" fill="#2a2a2a"/>
<polygon points="544.8,931.3 560.6,931.3 564.4,935.1 564.4,950.9 560.6,954.7 544.8,954.7 541,950.9 541,935.1" fill="#838383"/>
<rect x="697.3" y="710.8" width="27.4" height="27.4" fill="#e6e6e6"/>
<polygon points="701.9,710.8 720.1,710.8 724.7,715.4 724.7,733.6 720.1,738.2 701.9,738.2 697.3,733.6 697.3,715.4" fill="#2a2a2a"/>
<polygon points="703.1,712.8 718.9,712.8 722.7,716.6 722.7,732.4 718.9,736.2 703.1,736.2 699.3,732.4 699.3,716.6" fill="#838383"/>
<rect x="697.3" y="917.3" width="27.4" height="27.4" fill="#e6e6e6"/>
<polygon points="701.9,917.3 720.1,917.3 724.7,921.9 724.7,940.1 720.1,944.7 701.9,944.7 697.3,940.1 697.3,921.9" fill="#2a2a2a"/>
<polygon points="703.1,919.3 718.9,919.3 722.7,923.1 722.7,938.9 718.9,942.7 703.1,942.7 699.3,938.9 699.3,923.1" fill="#838383"/>
<rect x="856.3" y="703.8" width="27.4" height="27.4" fill="#e6e6e6"/>
<polygon points="860.9,703.8 879.1,703.8 883.7,708.4 883.7,726.6 879.1,731.2 860.9,731.2 856.3,726.6 856.3,708.4" fill="#2a2a2a"/>
<polygon points="862.1,705.8 877.9,705.8 881.7,709.6 881.7,725.4 877.9,729.2 862.1,729.2 858.3,725.4 858.3,709.6" fill="#838383"/>
<rect x="856.3" y="906.3" width="27.4" height="27.4" fill="#e6e6e6"/>
<polygon points="860.9,906.3 879.1,906.3 883.7,910.9 883.7,929.1 879.1,933.7 860.9,933.7 856.3,929.1 856.3,910.9" fill="#2a2a2a"/>
<polygon points="862.1,908.3 877.9,908.3 881.7,912.1 881.7,927.9 877.9,931.7 862.1,931.7 858.3,927.9 858.3,912.1" fill="#838383"/>
</g>
<defs><filter id="tb" filterUnits="userSpaceOnUse" x="0" y="0" width="1861" height="1211"><feGaussianBlur stdDeviation="0.3"/></filter></defs>
<g filter="url(#tb)">
<text x="795.2" y="29.6" font-size="38.5" fill="#fff" letter-spacing="2.0" id="t1">Broadway</text>
<text x="796.0" y="1197.4" font-size="38.5" fill="#fff" letter-spacing="2.25" id="t2">Crosby Street</text>
<text transform="translate(4.4,507.6) rotate(90)" font-size="38.5" fill="#fff" letter-spacing="2.4" id="t3">Prince Street</text>
</g>
<rect x="1059" y="1150" width="60" height="61" fill="#fff"/>
<rect x="0" y="0" width="4" height="1211" fill="#fff"/>
</svg>
</body></html>
